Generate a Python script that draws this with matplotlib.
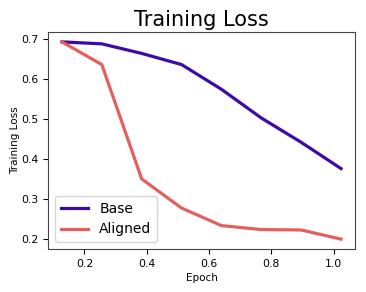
import numpy as np
import matplotlib
matplotlib.use("Agg")
import matplotlib.pyplot as plt

epochs = [0.128, 0.256, 0.384, 0.512, 0.640, 0.768, 0.896, 1.024]
base_loss = [0.694, 0.689, 0.665, 0.637, 0.575, 0.503, 0.442, 0.376]
aligned_loss = [0.694, 0.637, 0.350, 0.277, 0.233, 0.223, 0.222, 0.199]

fig = plt.figure(figsize=(3.66, 2.92), dpi=100)
ax = fig.add_axes([48 / 366, 43 / 292, 307 / 366, 217 / 292])

ax.plot(epochs, base_loss, color="#3c0aa6", linewidth=2.3, label="Base")
ax.plot(epochs, aligned_loss, color="#e4605e", linewidth=2.3, label="Aligned")

ax.set_title("Training Loss", fontsize=15, pad=4)
ax.set_xlabel("Epoch", fontsize=7.5, labelpad=3)
ax.set_ylabel("Training Loss", fontsize=7.5, labelpad=1)
ax.tick_params(labelsize=7.8)
ax.set_xticks([0.2, 0.4, 0.6, 0.8, 1.0])
ax.set_yticks([0.2, 0.3, 0.4, 0.5, 0.6, 0.7])
ax.legend(loc="lower left", fontsize=10)
for s in ax.spines.values():
    s.set_color("#444444")

fig.savefig("out.png", dpi=100)
